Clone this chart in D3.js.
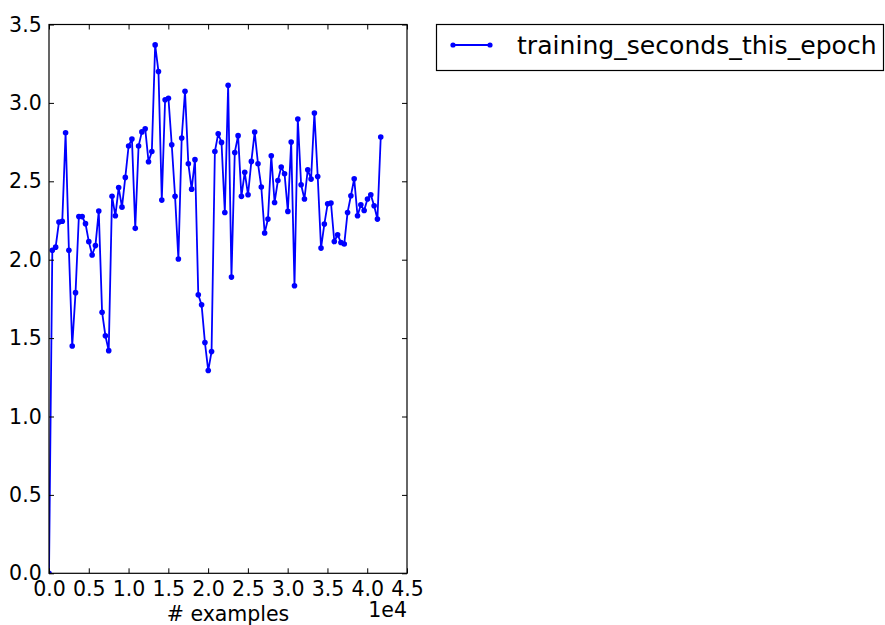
<!DOCTYPE html>
<html>
<head>
<meta charset="utf-8">
<script src="https://cdn.jsdelivr.net/npm/d3@7"></script>
<style>
  body { margin: 0; background: #fff; }
  svg text { font-family: "DejaVu Sans", sans-serif; fill: #000; }
</style>
</head>
<body>
<svg id="chart" width="885" height="625"></svg>
<script>
// values
const examples = [0, 417, 834, 1251, 1668, 2085, 2502, 2919, 3336, 3753, 4170,
  4587, 5004, 5421, 5838, 6255, 6672, 7089, 7506, 7923, 8340,
  8757, 9174, 9591, 10008, 10425, 10842, 11259, 11676, 12093, 12510,
  12927, 13344, 13761, 14178, 14595, 15012, 15429, 15846, 16263, 16680,
  17097, 17514, 17931, 18348, 18765, 19182, 19599, 20016, 20433, 20850,
  21267, 21684, 22101, 22518, 22935, 23352, 23769, 24186, 24603, 25020,
  25437, 25854, 26271, 26688, 27105, 27522, 27939, 28356, 28773, 29190,
  29607, 30024, 30441, 30858, 31275, 31692, 32109, 32526, 32943, 33360,
  33777, 34194, 34611, 35028, 35445, 35862, 36279, 36696, 37113, 37530,
  37947, 38364, 38781, 39198, 39615, 40032, 40449, 40866, 41283, 41700];
const seconds = [0, 2.06, 2.08, 2.24, 2.245, 2.81, 2.06, 1.45, 1.79, 2.275, 2.275,
  2.23, 2.115, 2.03, 2.09, 2.31, 1.665, 1.515, 1.42, 2.405, 2.28,
  2.46, 2.335, 2.525, 2.725, 2.77, 2.2, 2.725, 2.815, 2.835, 2.625,
  2.69, 3.37, 3.2, 2.38, 3.02, 3.03, 2.733, 2.404, 2.004, 2.776,
  3.074, 2.612, 2.45, 2.638, 1.776, 1.712, 1.472, 1.293, 1.414, 2.69,
  2.803, 2.748, 2.301, 3.112, 1.889, 2.684, 2.791, 2.404, 2.557, 2.414,
  2.627, 2.814, 2.612, 2.463, 2.17, 2.259, 2.663, 2.365, 2.505, 2.591,
  2.548, 2.308, 2.75, 1.834, 2.897, 2.478, 2.387, 2.574, 2.514, 2.936,
  2.531, 2.074, 2.227, 2.357, 2.361, 2.116, 2.159, 2.11, 2.1, 2.301,
  2.408, 2.516, 2.28, 2.35, 2.314, 2.387, 2.414, 2.344, 2.259, 2.782];
const xTicks = [0, 5000, 10000, 15000, 20000, 25000, 30000, 35000, 40000, 45000];
const yTicks = [0, 0.5, 1.0, 1.5, 2.0, 2.5, 3.0, 3.5];
const seriesName = "training_seconds_this_epoch";
const xLabel = "# examples";

const svg = d3.select("#chart");
const plotLeft = 49, plotRight = 407, plotTop = 24.5, plotBottom = 573.3;
const color = "#0000ff";
const fontSize = 20.5;

const xScale = d3.scaleLinear().domain([0, 45000]).range([plotLeft, plotRight]);
const yScale = d3.scaleLinear().domain([0, 3.5]).range([plotBottom, plotTop]);

svg.append("clipPath").attr("id", "plotclip")
  .append("rect")
  .attr("x", plotLeft).attr("y", plotTop)
  .attr("width", plotRight - plotLeft).attr("height", plotBottom - plotTop);

const data = examples.map((d, i) => [d, seconds[i]]);

const plot = svg.append("g").attr("clip-path", "url(#plotclip)");
plot.append("path")
  .datum(data)
  .attr("fill", "none")
  .attr("stroke", color)
  .attr("stroke-width", 1.8)
  .attr("d", d3.line().x(d => xScale(d[0])).y(d => yScale(d[1])));
plot.selectAll("circle")
  .data(data)
  .join("circle")
  .attr("cx", d => xScale(d[0]))
  .attr("cy", d => yScale(d[1]))
  .attr("r", 2.8)
  .attr("fill", color);

// axes, ticks inside on all four sides
const fmt = d3.format(".1f");
const tickSize = -5;
svg.append("g").attr("transform", `translate(0,${plotBottom})`)
  .call(d3.axisBottom(xScale).tickValues(xTicks).tickSize(tickSize).tickPadding(8.5)
    .tickFormat(d => fmt(d / 10000)));
svg.append("g").attr("transform", `translate(0,${plotTop})`)
  .call(d3.axisTop(xScale).tickValues(xTicks).tickSize(tickSize).tickFormat(""));
svg.append("g").attr("transform", `translate(${plotLeft},0)`)
  .call(d3.axisLeft(yScale).tickValues(yTicks).tickSize(tickSize).tickPadding(7.3).tickFormat(fmt));
svg.append("g").attr("transform", `translate(${plotRight},0)`)
  .call(d3.axisRight(yScale).tickValues(yTicks).tickSize(tickSize).tickFormat(""));

svg.selectAll(".domain").remove();
svg.selectAll(".tick line").attr("stroke", "#000");
svg.selectAll(".tick text").attr("font-size", fontSize).attr("font-family", "DejaVu Sans");

svg.append("rect")
  .attr("x", plotLeft).attr("y", plotTop)
  .attr("width", plotRight - plotLeft).attr("height", plotBottom - plotTop)
  .attr("fill", "none").attr("stroke", "#000").attr("stroke-width", 1.2);

svg.append("text")
  .attr("x", (plotLeft + plotRight) / 2).attr("y", 621)
  .attr("text-anchor", "middle").attr("font-size", fontSize)
  .text(xLabel);
svg.append("text")
  .attr("x", plotRight).attr("y", 616.5)
  .attr("text-anchor", "end").attr("font-size", fontSize)
  .text("1e4");

// legend
const legend = svg.append("g");
legend.append("rect")
  .attr("x", 436.5).attr("y", 24.5).attr("width", 447).attr("height", 46)
  .attr("fill", "#fff").attr("stroke", "#000").attr("stroke-width", 1.2);
legend.append("line")
  .attr("x1", 453).attr("x2", 490).attr("y1", 45).attr("y2", 45)
  .attr("stroke", color).attr("stroke-width", 1.8);
legend.selectAll("circle")
  .data([453, 490])
  .join("circle")
  .attr("cx", d => d).attr("cy", 45).attr("r", 2.6).attr("fill", color);
legend.append("text")
  .attr("x", 517).attr("y", 54.3)
  .attr("font-size", 25.1)
  .text(seriesName);
</script>
</body>
</html>
